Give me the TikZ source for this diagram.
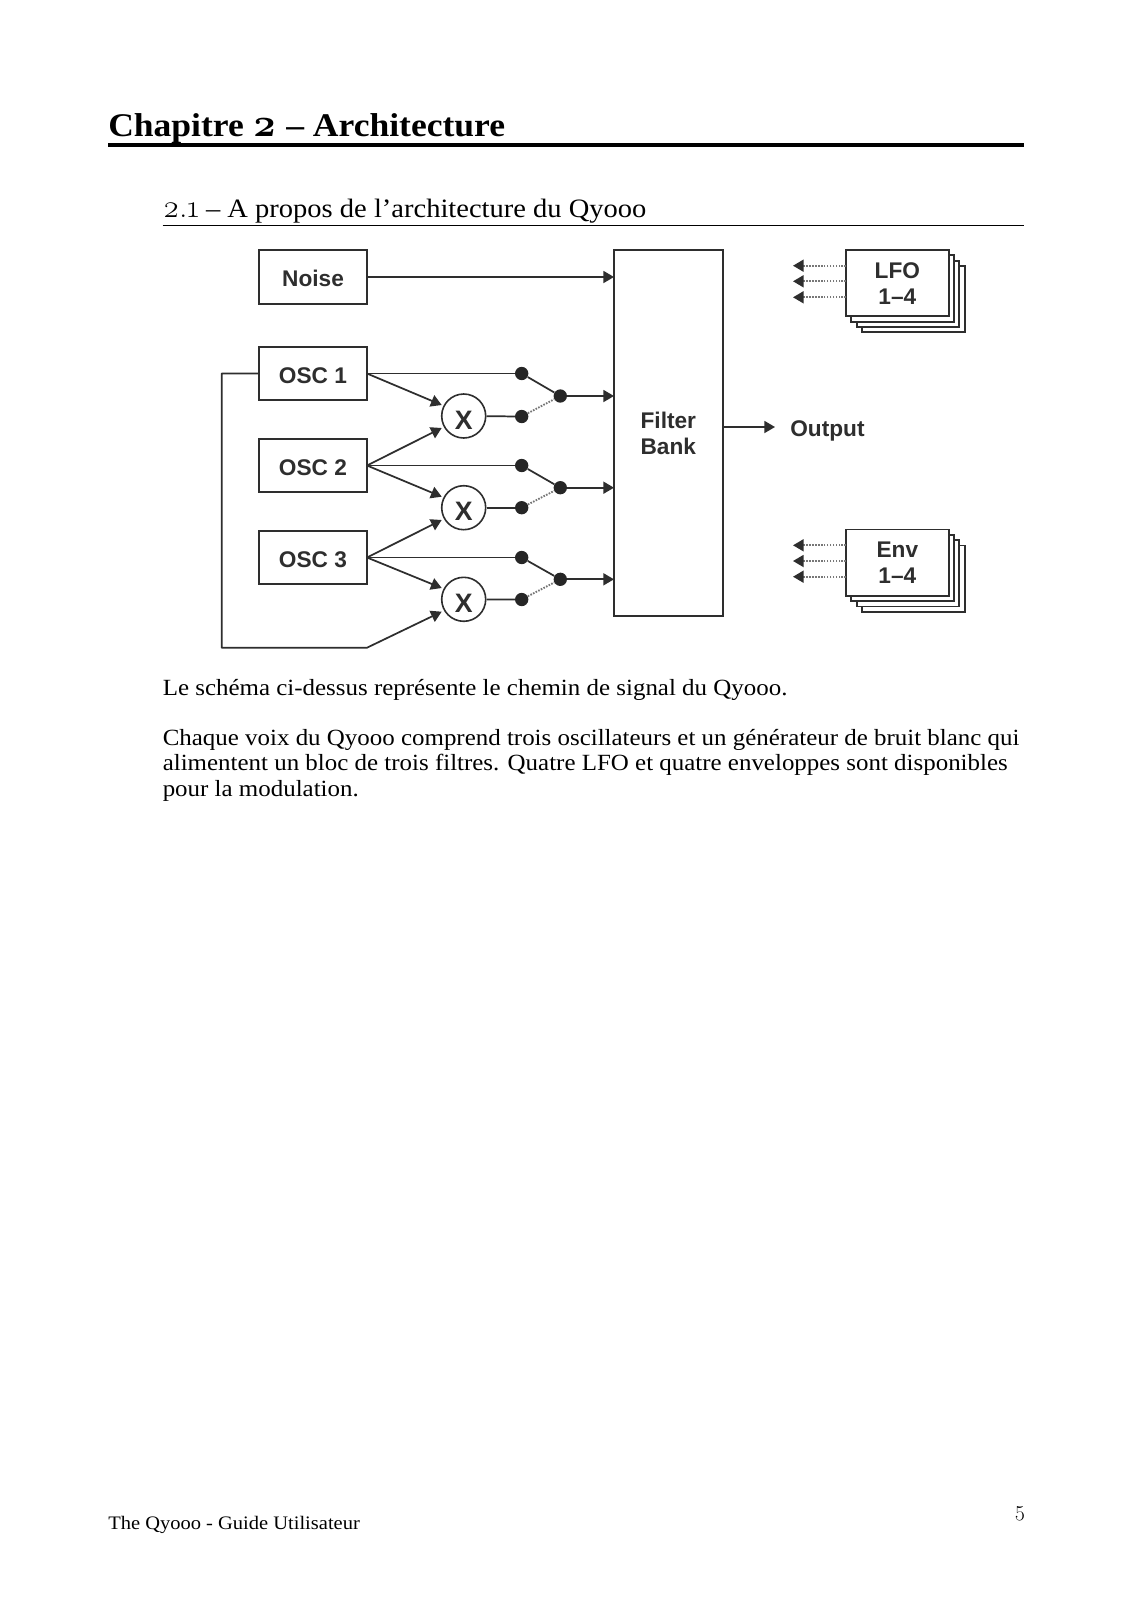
\documentclass[tikz,border=0pt]{standalone}
\usepackage{fontspec}
\setmainfont{Liberation Serif}[FakeStretch=1.075]
\newfontfamily\dsans{Liberation Sans}
\newfontfamily\oldnum[Numbers=OldStyle,Scale=1.2]{Latin Modern Roman}
\newcommand{\od}[1]{{\oldnum #1}}
\usetikzlibrary{arrows.meta}
\definecolor{ink}{HTML}{2E2E2E}
\tikzset{
  x=0.75pt,y=-0.75pt,
  blockbox/.style={draw=ink,line width=1.35pt,fill=white,inner sep=0pt,outer sep=0pt,font=\dsans\bfseries\fontsize{17}{19.5}\selectfont,text=ink,align=center,anchor=north west,execute at begin node={\rule{0pt}{15.2pt}}},
  stackbox/.style={blockbox,execute at begin node={\rule{0pt}{17pt}}},
  mixer/.style={circle,draw=ink,line width=1.2pt,fill=white,minimum size=33pt,inner sep=0pt,font=\dsans\bfseries\fontsize{20}{22}\selectfont,text=ink,execute at begin node={\rule{0pt}{19.7pt}}},
  dotnode/.style={circle,fill=black!85,minimum size=10pt,inner sep=0pt},
  wire/.style={draw=ink,line width=1.3pt},
  arrowwire/.style={wire,-{Triangle[length=8pt,width=9pt]}},
  dotwire/.style={draw=ink!65,line width=1.4pt,dash pattern=on 1.2pt off 1.0pt},
  dotarrow/.style={dotwire,-{Triangle[length=8pt,width=9pt,fill=ink,color=ink]}},
  doctext/.style={inner sep=0pt,anchor=base west,font=\fontsize{17.4}{19}\selectfont},
}
\begin{document}
\begin{tikzpicture}
\useasboundingbox[fill=white] (0,0) rectangle (1132,1600);
% page text
\node[doctext,font=\bfseries\fontsize{24.8}{28}\selectfont] (title) at (108,136) {Chapitre \od{2} – Architecture};
\fill[black] (108,143.3) rectangle (1024,146.7);
\node[doctext,font=\fontsize{19.9}{24}\selectfont] (sub) at (162.5,217) {\od{2.1} – A propos de l’architecture du Qyooo};
\draw[black,line width=0.7pt] (162.5,225.5) -- (1024,225.5);
\node[doctext] (p1) at (162.5,695) {Le schéma ci-dessus représente le chemin de signal du Qyooo.};
\node[doctext] (p2) at (162.5,745) {Chaque voix du Qyooo comprend trois oscillateurs et un générateur de bruit blanc qui};
\node[doctext] (p3) at (162.5,770.5) {alimentent un bloc de trois filtres. Quatre LFO et quatre enveloppes sont disponibles};
\node[doctext] (p4) at (162.5,796.5) {pour la modulation.};
\node[doctext,font=\fontsize{14.3}{18}\selectfont] (foot) at (108,1529) {The Qyooo - Guide Utilisateur};
\node[doctext,font=\oldnum\fontsize{13.5}{18}\selectfont] (pg) at (1014,1516) {5};
% blocks
\node[blockbox,minimum width=81pt,minimum height=40.25pt] (noise) at (259,250) {Noise};
\node[blockbox,minimum width=81pt,minimum height=39.75pt] (osca) at (259,347) {OSC 1};
\node[blockbox,minimum width=81pt,minimum height=39.75pt] (oscb) at (259,439) {OSC 2};
\node[blockbox,minimum width=81pt,minimum height=39.75pt] (oscc) at (259,531) {OSC 3};
\node[stackbox,minimum width=81.5pt,minimum height=274.5pt] (filter) at (614,250) {Filter\\Bank};
\node[mixer] (mxa) at (463.7,416) {X};
\node[mixer] (mxb) at (463.7,507.7) {X};
\node[mixer] (mxc) at (463.7,599.3) {X};
\foreach \n/\yy/\yb/\yr in {a/373.5/416.5/396,b/465.5/507.7/487.7,c/557.5/599.5/579.3}{
  \node[dotnode] (t\n) at (521.7,\yy) {};
  \node[dotnode] (b\n) at (521.7,\yb) {};
  \node[dotnode] (r\n) at (560.3,\yr) {};
  \draw[wire] (t\n) -- (r\n);
  \draw[dotwire] (b\n) -- (r\n);
  \draw[wire] (mx\n) -- (b\n);
  \draw[arrowwire] (r\n) -- (filter.west |- r\n);
}
\coordinate (nout) at (367,277);
\draw[arrowwire] (nout) -- (filter.west |- nout);
\draw[wire] (osca.east) -- (ta);
\draw[wire] (oscb.east) -- (tb);
\draw[wire] (oscc.east) -- (tc);
\coordinate (aa) at (441.7,405);
\coordinate (ab) at (441.7,428);
\coordinate (ba) at (441.7,496.7);
\coordinate (bb) at (441.7,520);
\coordinate (ca) at (441.7,588);
\coordinate (cb) at (441.7,611.7);
\draw[arrowwire] (osca.east) -- (aa);
\draw[arrowwire] (oscb.east) -- (ab);
\draw[arrowwire] (oscb.east) -- (ba);
\draw[arrowwire] (oscc.east) -- (bb);
\draw[arrowwire] (oscc.east) -- (ca);
\coordinate (fb1) at (221.7,373.5);
\coordinate (fb2) at (221.7,647.7);
\coordinate (fb3) at (367,647.7);
\draw[arrowwire,line join=round] (osca.west) -- (fb1) -- (fb2) -- (fb3) -- (cb);
% output
\coordinate (outend) at (775,427);
\draw[arrowwire] (filter.east |- outend) -- (outend);
\node[inner sep=0pt,anchor=base west,font=\dsans\bfseries\fontsize{17}{19}\selectfont,text=ink] (out) at (790,436.5) {Output};
% stacks
\foreach \ox/\oy/\s in {16/16/x,10.7/10.7/y,5.3/5.3/z}{
  \node[stackbox,minimum width=77pt,minimum height=49.75pt] at (846+\ox,250+\oy) {};
  \node[stackbox,minimum width=77pt,minimum height=49.75pt] at (846+\ox,529.5+\oy) {};
}
\node[stackbox,minimum width=77pt,minimum height=49.75pt] (lfo) at (846,250) {LFO\\1–4};
\node[stackbox,minimum width=77pt,minimum height=49.75pt] (env) at (846,529.5) {Env\\1–4};
\foreach \yy in {265.7,281.3,297.3}{
  \coordinate (tip) at (793,\yy);
  \draw[dotarrow] (lfo.west |- tip) -- (tip);
}
\foreach \yy in {545.3,561,576.7}{
  \coordinate (tip) at (793,\yy);
  \draw[dotarrow] (env.west |- tip) -- (tip);
}
\end{tikzpicture}
\end{document}
